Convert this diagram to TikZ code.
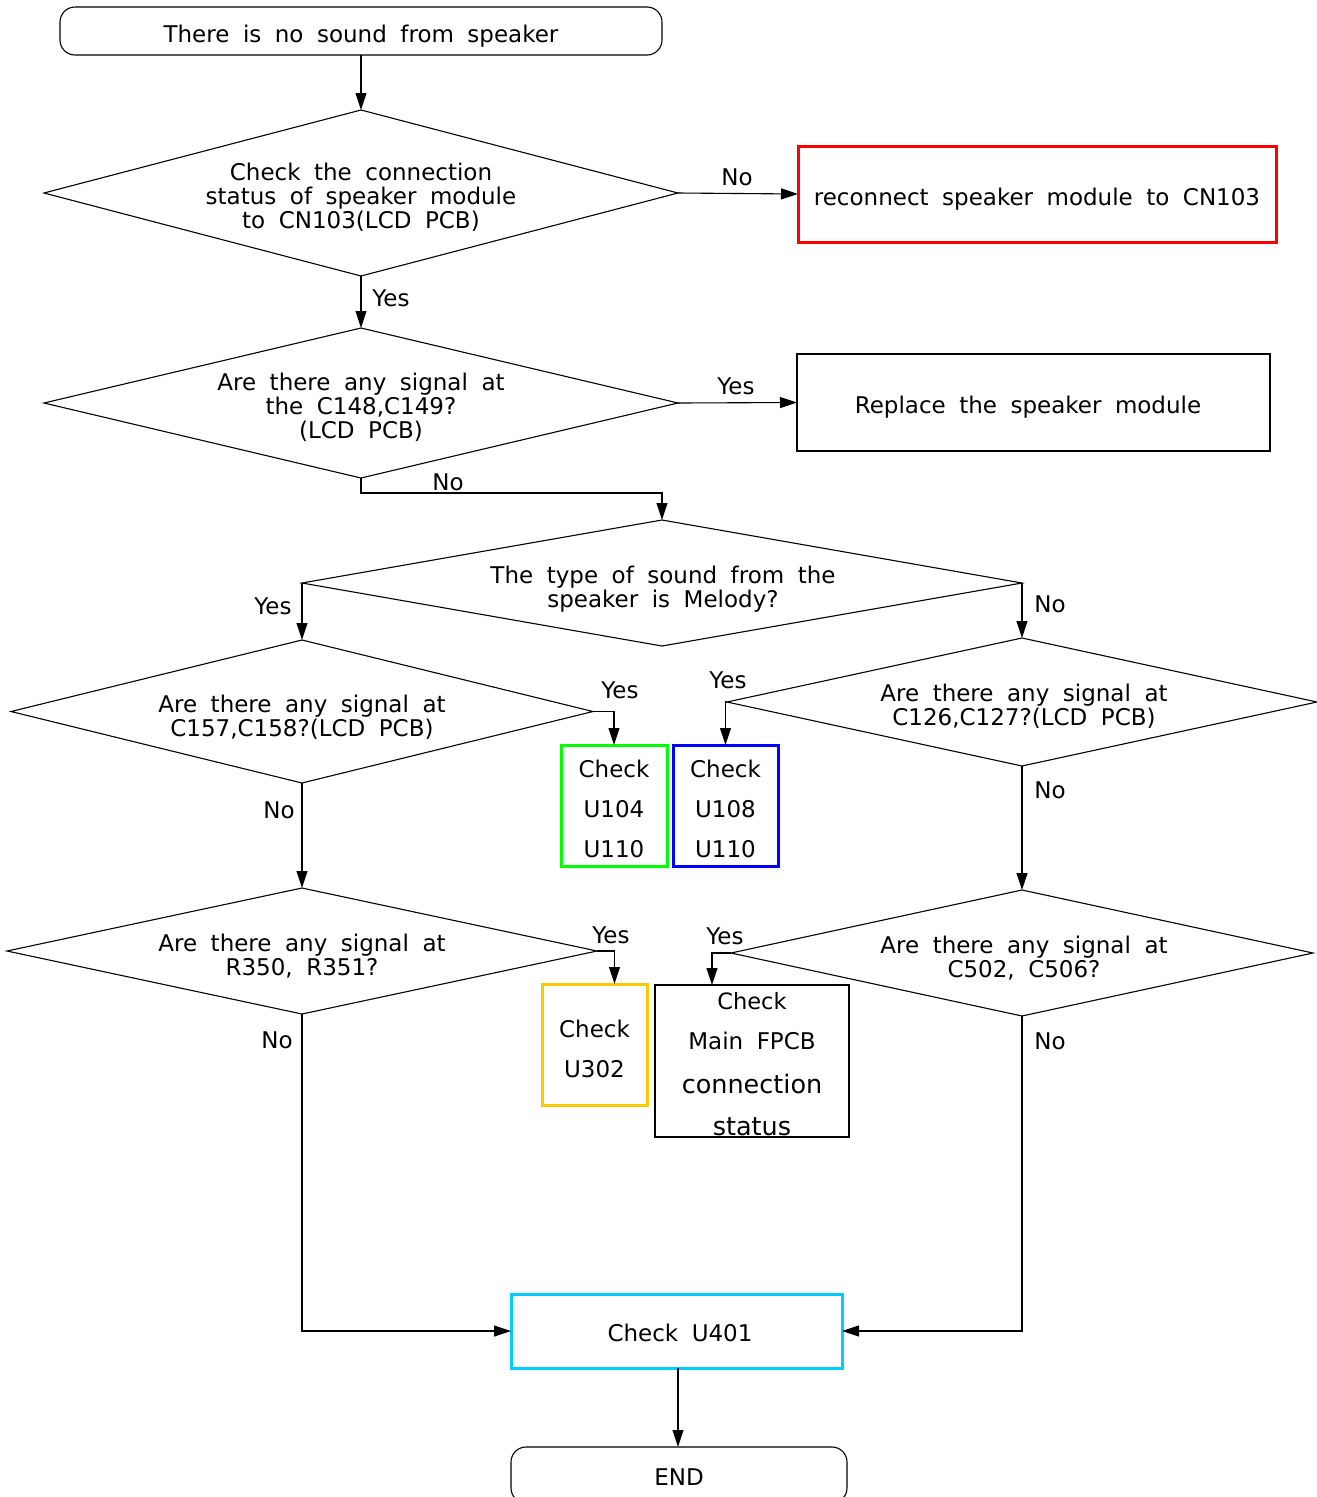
\documentclass[tikz,border=0pt]{standalone}
\usepackage{fontspec}
\setmainfont{DejaVu Sans}[WordSpace=1.85]
\usetikzlibrary{shapes.geometric,arrows.meta}
\definecolor{boxred}{HTML}{FF0000}
\definecolor{boxgreen}{HTML}{00FF00}
\definecolor{boxblue}{HTML}{0000FF}
\definecolor{boxyellow}{HTML}{FFC800}
\definecolor{boxcyan}{HTML}{00CCFF}
\begin{document}
\begin{tikzpicture}[x=1pt,y=-1pt,
  every node/.style={inner sep=0pt, outer sep=0pt},
  base/.style={font=\fontsize{23}{24}\selectfont},
  txt/.style={base, align=center},
  lbl/.style={base},
  dia/.style={draw, diamond, line width=1.1pt},
  term/.style={draw, rectangle, rounded corners=15pt, line width=1.1pt},
  pbox/.style={draw, rectangle, line width=1.1pt},
  cbox/.style={draw, rectangle, line width=3pt},
  ctxt/.style={align=center, font=\fontsize{23}{40}\selectfont},
  conn/.style={line width=1.1pt, -{Triangle[length=17pt,width=11pt]}}
]
\useasboundingbox (0,0) rectangle (1317,1497);

% start
\node[term, minimum width=602pt, minimum height=48pt] (start) at (361,31) {};
\node[base] (ts) at (361,36) {There is no sound from speaker};

% decision 1
\node[dia, minimum width=634pt, minimum height=166pt] (d1) at (361,193) {};
\node[txt] (t1) at (361,197) {Check the connection\\status of speaker module\\to CN103(LCD PCB)};
\node[cbox, draw=boxred, minimum width=478pt, minimum height=96pt] (r1) at (1037,194) {};
\node[base] (tr1) at (1037,199) {reconnect speaker module to CN103};

% decision 2
\node[dia, minimum width=634pt, minimum height=150pt] (d2) at (361,403) {};
\node[txt] (t2) at (361,407) {Are there any signal at\\the C148,C149?\\(LCD PCB)};
\node[pbox, minimum width=473pt, minimum height=97pt] (b2) at (1033.5,402.5) {};
\node[base] (tb2) at (1028,407) {Replace the speaker module};

% decision 3
\node[dia, minimum width=720pt, minimum height=126pt] (d3) at (662,583) {};
\node[txt] (t3) at (663,589) {The type of sound from the\\speaker is Melody?};

% decision 4 (left)
\node[dia, minimum width=582pt, minimum height=143pt] (d4) at (302,711.5) {};
\node[txt] (t4) at (302,717.5) {Are there any signal at\\C157,C158?(LCD PCB)};

% decision 5 (right)
\node[dia, minimum width=590pt, minimum height=128pt] (d5) at (1022,702) {};
\node[txt] (t5) at (1024,706.5) {Are there any signal at\\C126,C127?(LCD PCB)};

% check boxes
\node[cbox, draw=boxgreen, minimum width=106pt, minimum height=121pt] (g) at (614,805.5) {};
\node[ctxt] (tg) at (614,809) {Check\\U104\\U110};
\node[cbox, draw=boxblue, minimum width=105pt, minimum height=121pt] (bl) at (725.5,805.5) {};
\node[ctxt] (tbl) at (725.5,809) {Check\\U108\\U110};

% decision 6 (left bottom)
\node[dia, minimum width=590pt, minimum height=126pt] (d6) at (302,951) {};
\node[txt] (t6) at (302,956) {Are there any signal at\\R350, R351?};

% decision 7 (right bottom)
\node[dia, minimum width=582pt, minimum height=126pt] (d7) at (1022,953) {};
\node[txt] (t7) at (1024,958) {Are there any signal at\\C502, C506?};

\node[cbox, draw=boxyellow, minimum width=105pt, minimum height=121pt] (y) at (594.5,1044.5) {};
\node[ctxt] (ty) at (594.5,1049) {Check\\U302};

\node[pbox, minimum width=194pt, minimum height=152pt] (f) at (752,1061) {};
\node[font=\fontsize{22.5}{24}\selectfont] (f1) at (752,1001) {Check};
\node[font=\fontsize{23}{24}\selectfont] (f2) at (752,1041) {Main FPCB};
\node[font=\fontsize{25.5}{26}\selectfont] (f3) at (752,1084) {connection};
\node[font=\fontsize{25.5}{26}\selectfont] (f4) at (752,1127) {status};

% final
\node[cbox, draw=boxcyan, minimum width=331pt, minimum height=74pt] (u) at (676.5,1331) {};
\node[base] (tu) at (680,1333) {Check U401};
\node[term, minimum width=336pt, minimum height=56pt] (end) at (679,1475) {};
\node[base] (te) at (679,1477) {END};

% connectors
\draw[conn] (start) -- (d1.north);
\draw[conn] (d1.east) -- (r1.west);
\node[lbl] (l1) at (737,177) {No};
\draw[conn] (d1.south) -- (d2.north);
\node[lbl] (l2) at (391,298) {Yes};
\draw[conn] (d2.east) -- (b2.west);
\node[lbl] (l3) at (736,386) {Yes};
\coordinate (k1) at (361,493);
\draw[conn] (d2.south) -- (k1) -| (d3.north);
\node[lbl] (l4) at (448,482) {No};
\draw[conn] (d3.west) -- (d4.north);
\node[lbl] (l5) at (273,606) {Yes};
\draw[conn] (d3.east) -- (d5.north);
\node[lbl] (l6) at (1050,604) {No};
\draw[conn] (d4.east) -| (g.north);
\node[lbl] (l7) at (620,690) {Yes};
\draw[conn] (d5.west) -| (bl.north);
\node[lbl] (l8) at (728,680) {Yes};
\draw[conn] (d4.south) -- (d6.north);
\node[lbl] (l9) at (279,810) {No};
\draw[conn] (d5.south) -- (d7.north);
\node[lbl] (l10) at (1050,790) {No};
\draw[conn] (d6.east) -| ([xshift=20pt]y.north);
\node[lbl] (l11) at (611,935) {Yes};
\draw[conn] (d7.west) -| ([xshift=-40pt]f.north);
\node[lbl] (l12) at (725,936) {Yes};
\draw[conn] (d6.south) |- (u.west);
\node[lbl] (l13) at (277,1040) {No};
\draw[conn] (d7.south) |- (u.east);
\node[lbl] (l14) at (1050,1041) {No};
\draw[conn] ([xshift=1.5pt]u.south) -- ([xshift=1.5pt]u.south |- end.north);
\end{tikzpicture}
\end{document}
